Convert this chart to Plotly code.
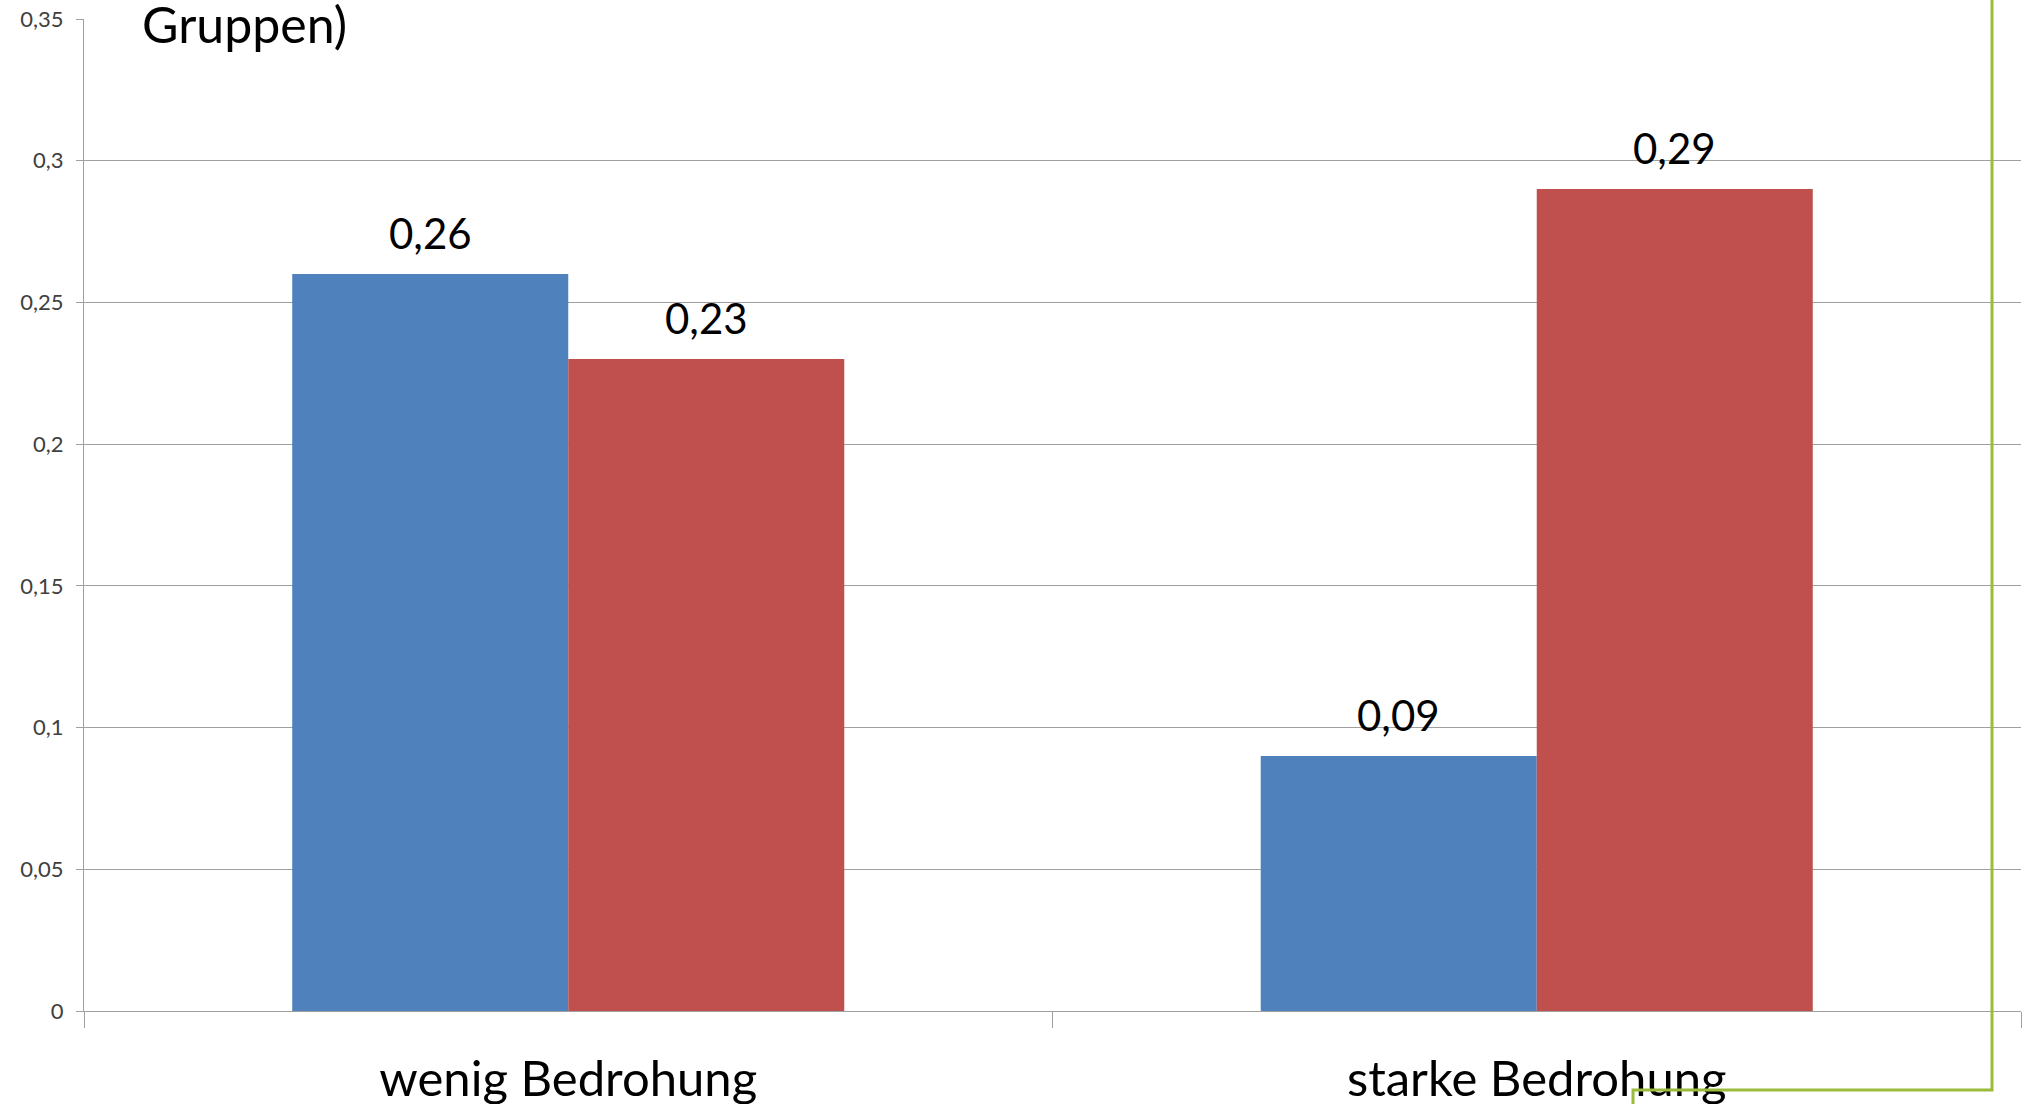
import plotly.graph_objects as go

# Kategorien und Werte
categories = ["wenig Bedrohung", "starke Bedrohung"]
series_a = [0.26, 0.09]
series_b = [0.23, 0.29]
series_names = ["Gruppe A", "Gruppe B"]
colors = ["#4F81BD", "#C0504D"]

y_tickvals = [0, 0.05, 0.1, 0.15, 0.2, 0.25, 0.3, 0.35]
y_ticktext = ["0", "0,05", "0,1", "0,15", "0,2", "0,25", "0,3", "0,35"]

W, H = 2028, 1104
ML, MR, MT, MB = 84, 7, 19, 93
plot_w = W - ML - MR
plot_h = H - MT - MB

FONT = "Lato"


def fmt(v):
    return f"{v:.2f}".replace(".", ",")


def px_x(px):
    return (px - ML) / plot_w


def px_y(py):
    return (H - MB - py) / plot_h


fig = go.Figure()
for name, vals, col in zip(series_names, [series_a, series_b], colors):
    fig.add_trace(go.Bar(
        x=categories, y=vals, name=name,
        marker=dict(color=col, line=dict(width=0)),
        hoverinfo="skip",
    ))

# Wertebeschriftung über den Balken
cat_w = plot_w / len(categories)
bar_w = cat_w * (1 - 0.43) / 2
for k, vals in enumerate([series_a, series_b]):
    shift = (k - 0.5) * bar_w
    for c, v in zip(categories, vals):
        fig.add_annotation(
            x=c, y=v, xref="x", yref="y", text=fmt(v),
            showarrow=False, xshift=shift, yanchor="bottom", yshift=14,
            font=dict(family=FONT, size=42, color="#000000"),
        )

# Titelzeile oben links
fig.add_annotation(
    x=px_x(140), y=px_y(-8), xref="paper", yref="paper",
    text="Gruppen)", showarrow=False, xanchor="left", yanchor="top",
    font=dict(family=FONT, size=50, color="#000000"),
)

# grüner Rahmen rechts unten
gx1, gy1, gx2, gy2 = px_x(1992), px_y(1090), px_x(1633), px_y(1110)
fig.add_shape(
    type="path", xref="paper", yref="paper", layer="above",
    path=f"M {gx1} {px_y(-5)} L {gx1} {gy1} L {gx2} {gy1} L {gx2} {gy2}",
    line=dict(color="#9BBB3B", width=3),
)

fig.update_layout(
    width=W, height=H,
    margin=dict(l=ML, r=MR, t=MT, b=MB, pad=0, autoexpand=False),
    paper_bgcolor="white", plot_bgcolor="white",
    barmode="group", bargap=0.43, bargroupgap=0,
    showlegend=False,
    separators=", ",
    font=dict(family=FONT),
    xaxis=dict(
        type="category", showline=True, linecolor="#A0A0A0", linewidth=1.3,
        ticks="outside", tickson="boundaries", ticklen=16, tickcolor="#A0A0A0",
        tickwidth=1.3, showgrid=False, automargin=False,
        tickfont=dict(family=FONT, size=49, color="#000000"),
        ticklabelstandoff=25,
    ),
    yaxis=dict(
        range=[0, 0.35], tickvals=y_tickvals, ticktext=y_ticktext,
        showgrid=True, gridcolor="#A0A0A0", gridwidth=1.3,
        showline=True, linecolor="#A0A0A0", linewidth=1.3,
        ticks="outside", ticklen=7, tickcolor="#A0A0A0", tickwidth=1.3,
        tickfont=dict(family=FONT, size=22, color="#404040"),
        ticklabelstandoff=8, zeroline=False, automargin=False,
    ),
)

fig.write_html("out.html")
